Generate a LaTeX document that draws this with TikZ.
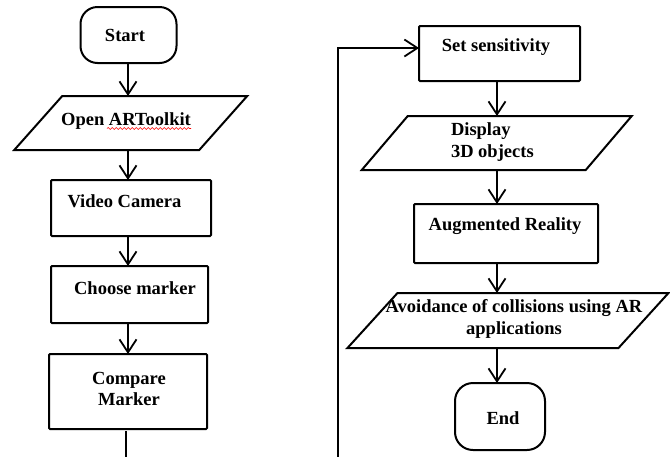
\documentclass[tikz,border=0pt]{standalone}
\usepackage{fontspec}
\setmainfont{Liberation Serif}
\usetikzlibrary{arrows.meta,calc,decorations.pathmorphing}
\begin{document}
\begin{tikzpicture}[x=1pt,y=-1pt,
  every node/.style={inner sep=0pt,outer sep=0pt},
  ln/.style={line width=2pt},
  arr/.style={ln,-{Straight Barb[length=13pt,width=17pt,line width=1.8pt]}},
  boxrect/.style={draw,line width=2pt,rounded corners=1pt},
  term/.style={draw,line width=2pt,rounded corners=17pt},
  ghost/.style={draw=none},
  txt/.style={font=\fontsize{18.5}{21.5}\selectfont\bfseries,align=center},
  txtl/.style={font=\fontsize{18.5}{21.5}\selectfont\bfseries,align=left}]
\useasboundingbox (0,0) rectangle (670,456);
% left column
\node[term,minimum width=96pt,minimum height=56pt] (start) at (128.5,35) {};
\node[txt] (starttxt) at (125,35) {Start};
\node[ghost,minimum width=233pt,minimum height=54pt] (open) at (130.75,123) {};
\draw[ln,line join=miter] ($(open.north west)+(48,0)$) -- (open.north east) -- ($(open.south east)+(-48,0)$) -- (open.south west) -- cycle;
\node[txt] (opentxt) at (126,121) {Open ARToolkit};
\draw[red,line width=0.6pt,decorate,decoration={snake,amplitude=1pt,segment length=4pt}] (107,128.5) -- (191,128.5);
\node[boxrect,minimum width=160pt,minimum height=56pt] (video) at (131,208) {};
\node[txt] (videotxt) at (124.5,201) {Video Camera};
\node[boxrect,minimum width=157pt,minimum height=57pt] (choose) at (129.5,294.5) {};
\node[txt] (choosetxt) at (135,288) {Choose marker};
\node[boxrect,minimum width=158pt,minimum height=75pt] (compare) at (128,391.5) {};
\node[txt] (comparetxt) at (129,389) {Compare\\Marker};
\coordinate (lx) at (128,0);
\coordinate (cb) at (126,458);
\draw[arr] (start.south -| lx) -- (open.north -| lx);
\draw[arr] (open.south -| lx) -- (video.north -| lx);
\draw[arr] (video.south -| lx) -- (choose.north -| lx);
\draw[arr] (choose.south -| lx) -- (compare.north -| lx);
\draw[ln] ($(compare.south -| cb)+(0,2)$) -- (cb);
% right column
\node[boxrect,minimum width=161pt,minimum height=55pt] (set) at (499.5,53.5) {};
\node[txt] (settxt) at (496,47) {Set sensitivity};
\node[ghost,minimum width=270pt,minimum height=54pt] (display) at (496.75,143) {};
\draw[ln,line join=miter] ($(display.north west)+(46,0)$) -- (display.north east) -- ($(display.south east)+(-46,0)$) -- (display.south west) -- cycle;
\node[txtl,anchor=west] (displaytxt) at (451,142) {Display\\3D objects};
\node[boxrect,minimum width=184pt,minimum height=59pt] (aug) at (506,233.5) {};
\node[txt] (augtxt) at (505,226) {Augmented Reality};
\node[ghost,minimum width=321pt,minimum height=55pt] (avoid) at (508,320.5) {};
\draw[ln,line join=miter] ($(avoid.north west)+(50,0)$) -- (avoid.north east) -- ($(avoid.south east)+(-50,0)$) -- (avoid.south west) -- cycle;
\node[txt] (avoidtxt) at (514,319) {Avoidance of collisions using AR\\applications};
\node[term,rounded corners=18pt,minimum width=90pt,minimum height=67pt] (end) at (500,416.5) {};
\node[txt] (endtxt) at (503,418) {End};
\coordinate (rx) at (497,0);
\draw[arr] (set.south -| rx) -- (display.north -| rx);
\draw[arr] (display.south -| rx) -- (aug.north -| rx);
\draw[arr] (aug.south -| rx) -- (avoid.north -| rx);
\draw[arr] (avoid.south -| rx) -- (end.north -| rx);
% feedback
\coordinate (fb) at (338,458);
\draw[arr] (fb) |- ($(set.west)+(0,-5.5)$);
\end{tikzpicture}
\end{document}
